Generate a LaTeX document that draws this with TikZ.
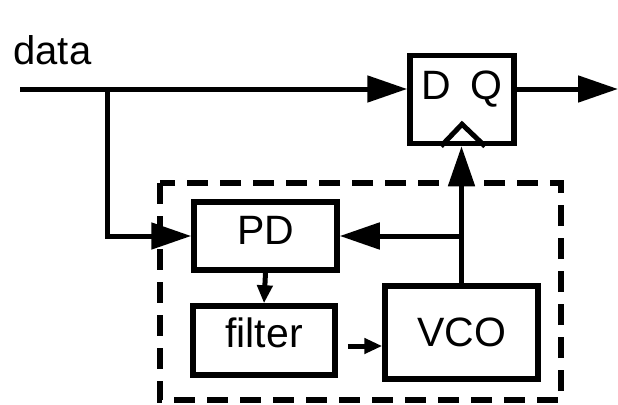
\documentclass[tikz,border=0pt]{standalone}
\usepackage{fontspec}
\setmainfont{Liberation Sans}
\usetikzlibrary{arrows.meta}
\begin{document}
\begin{tikzpicture}[x=1pt,y=-1pt,line width=5pt,
  blk/.style={draw,line width=5.5pt,inner sep=0pt,font=\fontsize{41}{44}\selectfont},
  big/.style={-{Triangle[length=40pt,width=26pt]}},
  small/.style={-{Triangle[length=18pt,width=15pt]}},
  pllbox/.style={draw,line width=5.5pt,dash pattern=on 21pt off 12pt}]
 \useasboundingbox (0,0) rectangle (618,404);
 \draw[pllbox] (160,183) rectangle (561,400);
 \node[blk,minimum width=104pt,minimum height=88pt,
  label={[yshift=10pt,font=\fontsize{41}{44}\selectfont]center:D\hspace{20pt}Q}] (ff) at (462,99.5) {};
 \node[blk,minimum width=143pt,minimum height=68pt,text depth=12pt] (pd) at (265.5,236) {PD};
 \node[blk,minimum width=142pt,minimum height=69pt,text depth=16pt] (filter) at (264,340.5) {filter};
 \node[blk,minimum width=153pt,minimum height=93pt] (vco) at (461.5,332.5) {VCO};
 \node[font=\fontsize{40}{44}\selectfont,anchor=base west,inner sep=0pt] (data) at (11,65) {data};
 \coordinate (din) at (20,89);
 \coordinate (split) at (107,89);
 \coordinate (qout) at (618,89);
 \coordinate (tap) at (vco.north |- pd.east);
 \coordinate (fo) at ([xshift=10pt,yshift=-5.5pt]filter.east);
 \draw[big] (din) -- (din -| ff.west);
 \draw[big] (qout -| ff.east) -- (qout);
 \draw[big] (split) |- (pd.west);
 \draw[big] (vco.north) -- (tap) -- (pd.east);
 \draw[big] (tap) -- (tap |- ff.south);
 \draw[small] (pd.south) -- (filter.north);
 \draw[small] (fo) -- (fo -| vco.west);
 \draw ([xshift=-21pt]ff.south) -- ([yshift=22pt]ff.south) -- ([xshift=23pt]ff.south);
\end{tikzpicture}
\end{document}
